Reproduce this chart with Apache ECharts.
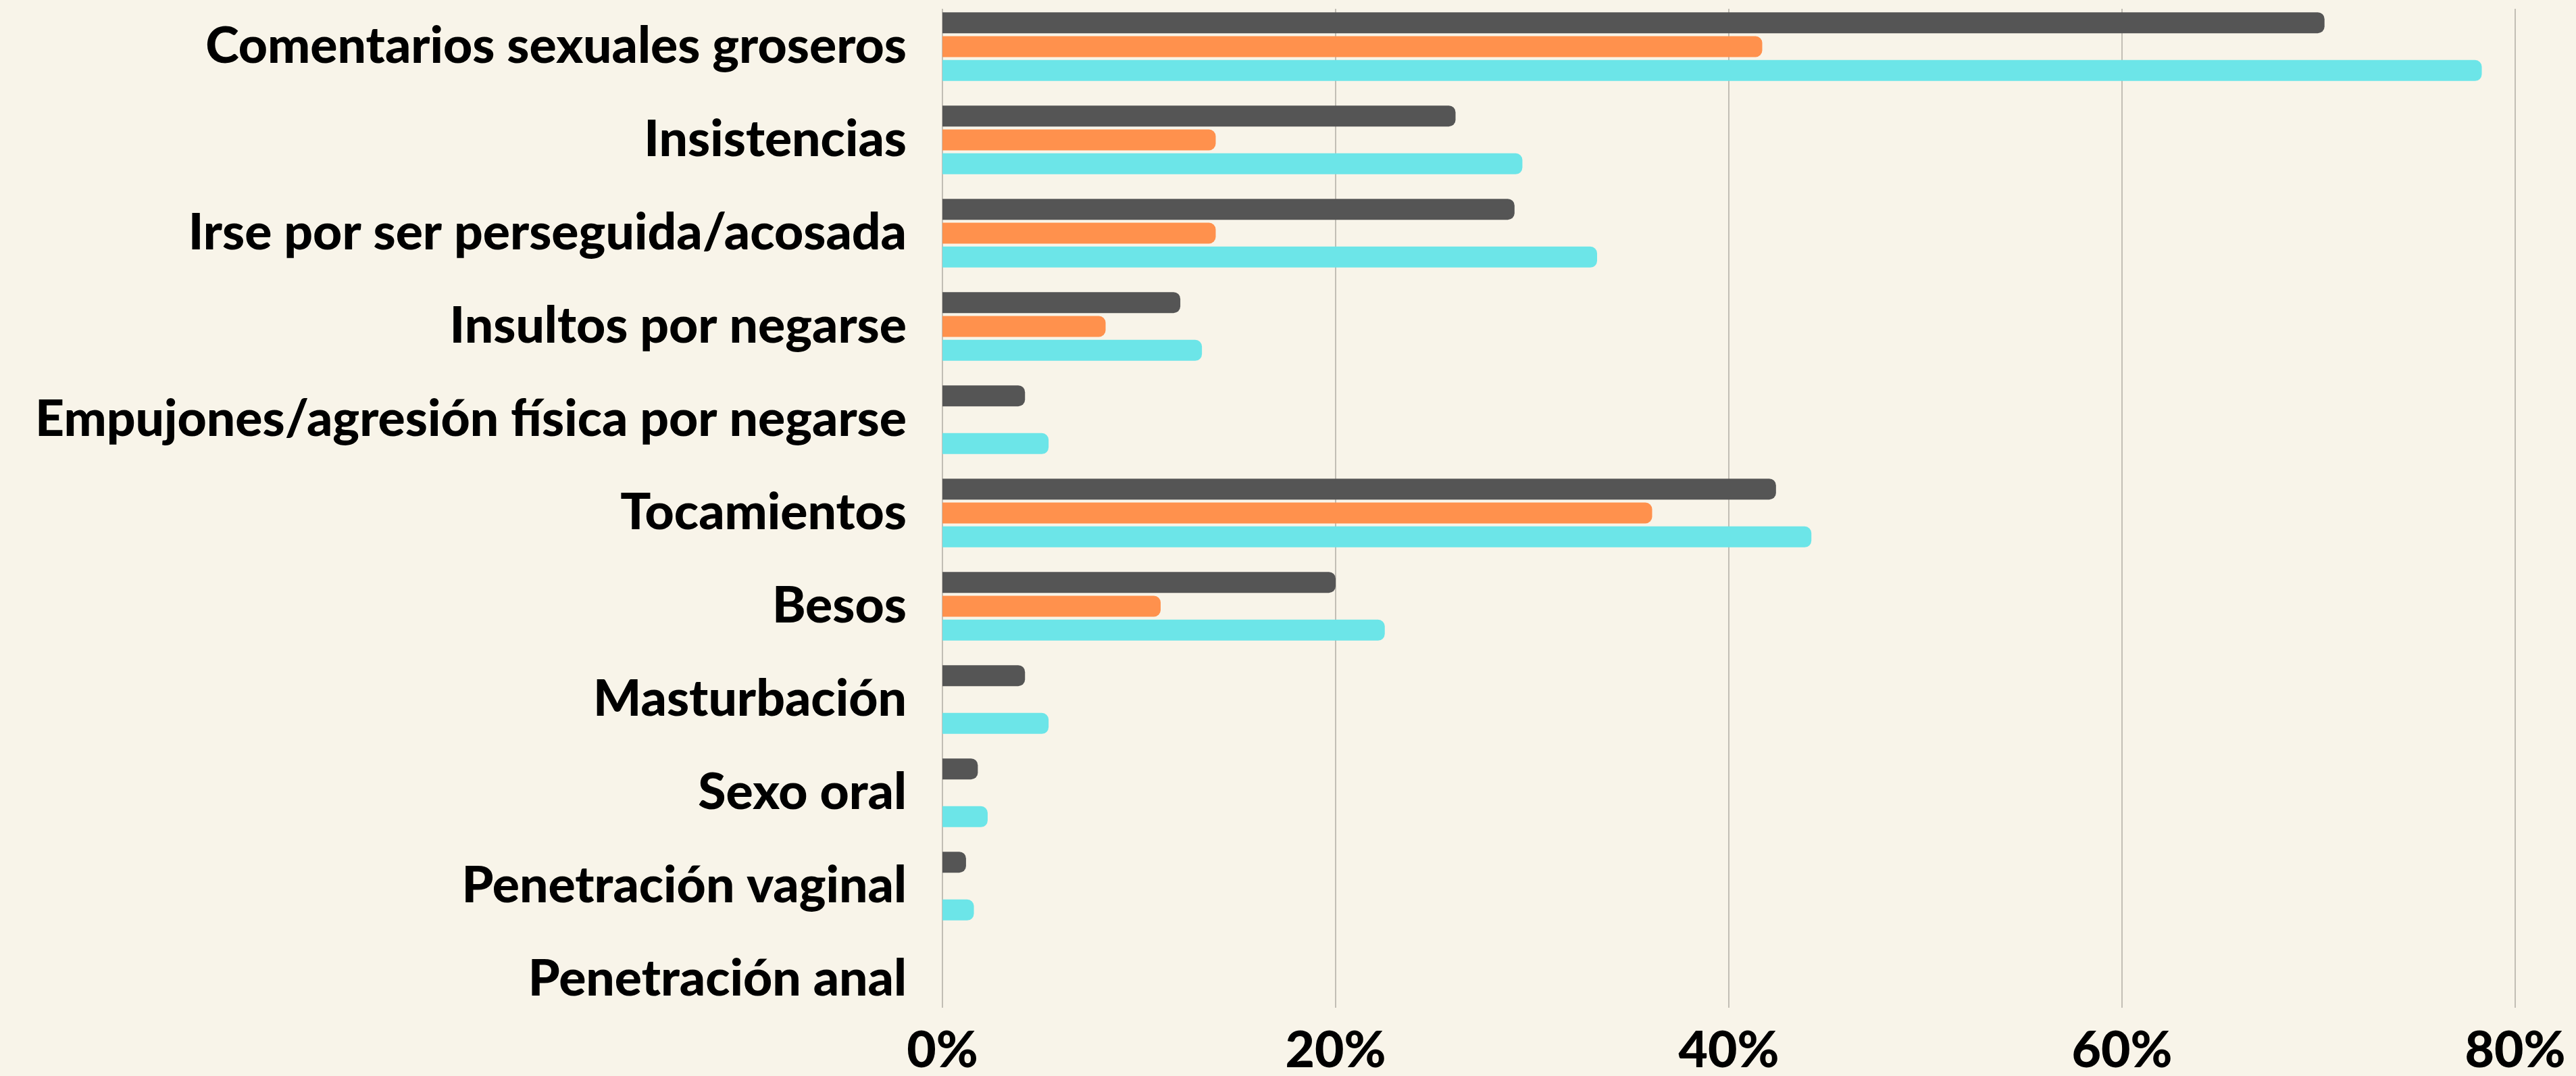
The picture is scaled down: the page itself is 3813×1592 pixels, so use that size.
<!DOCTYPE html>
<html>
<head>
<meta charset="utf-8">
<script src="https://cdn.jsdelivr.net/npm/echarts@6/dist/echarts.min.js"></script>
<style>
html,body{margin:0;padding:0;background:#F8F4E9;}
#c{width:3813px;height:1592px;}
</style>
</head>
<body>
<div id="c"></div>
<script>
var categories = [
  'Comentarios sexuales groseros',
  'Insistencias',
  'Irse por ser perseguida/acosada',
  'Insultos por negarse',
  'Empujones/agresión física por negarse',
  'Tocamientos',
  'Besos',
  'Masturbación',
  'Sexo oral',
  'Penetración vaginal',
  'Penetración anal'
];
var seriesDark   = [70.3, 26.1, 29.1, 12.1, 4.2, 42.4, 20.0, 4.2, 1.8, 1.2, null];
var seriesOrange = [41.7, 13.9, 13.9, 8.3, null, 36.1, 11.1, null, null, null, null];
var seriesCyan   = [78.3, 29.5, 33.3, 13.2, 5.4, 44.2, 22.5, 5.4, 2.3, 1.6, null];
var xTicks = [0, 20, 40, 60, 80];

var FONT = 'Lato';
var chart = echarts.init(document.getElementById('c'), null, {renderer: 'canvas'});
var radius = [0, 10, 10, 0];
chart.setOption({
  backgroundColor: '#F8F4E9',
  animation: false,
  grid: [
    {left: 1395, right: 90, top: -5, height: 1523, containLabel: false},
    {left: 1395, right: 90, top: 13, height: 1487, containLabel: false}
  ],
  xAxis: [
    {gridIndex: 0, type: 'value', min: xTicks[0], max: xTicks[xTicks.length-1], interval: 20,
     axisLine: {show: false}, axisTick: {show: false}, axisLabel: {show: false}, splitLine: {show: false}},
    {gridIndex: 1, type: 'value', min: xTicks[0], max: xTicks[xTicks.length-1], interval: 20,
     axisLine: {show: false}, axisTick: {show: false},
     axisLabel: {show: true, margin: 26, color: '#000', fontFamily: FONT, fontWeight: 900, fontSize: 75,
                 formatter: function(v){ return v + '%'; }},
     splitLine: {show: true, lineStyle: {color: '#C2BEB5', width: 2}}}
  ],
  yAxis: [
    {gridIndex: 0, type: 'category', data: categories, inverse: true,
     axisLine: {show: false}, axisTick: {show: false},
     axisLabel: {show: true, margin: 53, color: '#000', fontFamily: FONT, fontWeight: 900, fontSize: 75,
                 padding: [0, 0, 18, 0]}},
    {gridIndex: 1, type: 'value', show: false}
  ],
  series: [
    {type: 'bar', xAxisIndex: 0, yAxisIndex: 0, data: seriesDark, barWidth: 31, barGap: '14%',
     itemStyle: {color: '#555555', borderRadius: radius}},
    {type: 'bar', xAxisIndex: 0, yAxisIndex: 0, data: seriesOrange, barWidth: 31, barGap: '14%',
     itemStyle: {color: '#FF914D', borderRadius: radius}},
    {type: 'bar', xAxisIndex: 0, yAxisIndex: 0, data: seriesCyan, barWidth: 31, barGap: '14%',
     itemStyle: {color: '#6CE5E8', borderRadius: radius}}
  ]
});
</script>
</body>
</html>
